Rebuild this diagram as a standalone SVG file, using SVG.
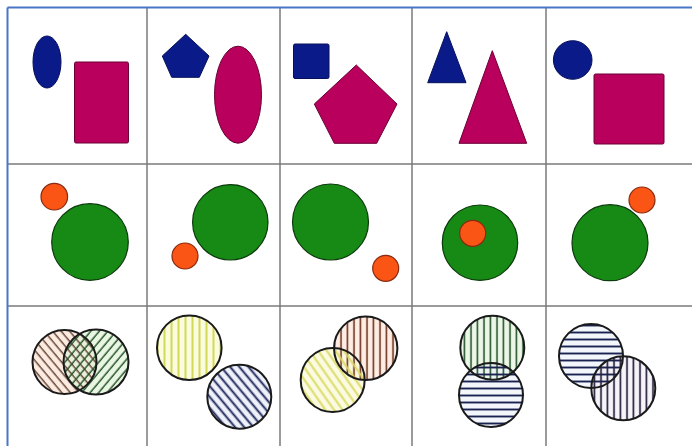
<svg xmlns="http://www.w3.org/2000/svg" width="692" height="446" viewBox="0 0 692 446">
<style>
.grid{stroke:#7a7a7a;stroke-width:1.5;fill:none}
.border{stroke:#4a76c8;stroke-width:2;fill:none}
.blue{fill:#0a1a88;stroke:#06105a;stroke-width:1}
.mag{fill:#b8005c;stroke:#6a0035;stroke-width:1}
.green{fill:#168a14;stroke:#0c3a0c;stroke-width:1.2}
.orange{fill:#fa5514;stroke:#8a2a10;stroke-width:1.2}
.ol{fill:none;stroke:#1a1a1a;stroke-width:2}
</style>
<defs>
<pattern id="pBrownD" width="6.5" height="6.5" patternUnits="userSpaceOnUse" patternTransform="rotate(-40)"><line x1="3" y1="0" x2="3" y2="6.5" stroke="#6a4a3a" stroke-width="1.5"/></pattern>
<pattern id="pGreenD" width="6.5" height="6.5" patternUnits="userSpaceOnUse" patternTransform="rotate(40)"><line x1="3" y1="0" x2="3" y2="6.5" stroke="#2a552a" stroke-width="1.5"/></pattern>
<pattern id="pYellowV" width="7" height="7" patternUnits="userSpaceOnUse"><line x1="3.5" y1="0" x2="3.5" y2="7" stroke="#d2d858" stroke-width="2"/></pattern>
<pattern id="pNavyD" width="7" height="7" patternUnits="userSpaceOnUse" patternTransform="rotate(-40)"><line x1="3.5" y1="0" x2="3.5" y2="7" stroke="#1a2258" stroke-width="1.9"/></pattern>
<pattern id="pBrownV" width="6.5" height="6.5" patternUnits="userSpaceOnUse"><line x1="3" y1="0" x2="3" y2="6.5" stroke="#6e341e" stroke-width="1.6"/></pattern>
<pattern id="pYellowD" width="7" height="7" patternUnits="userSpaceOnUse" patternTransform="rotate(-35)"><line x1="3.5" y1="0" x2="3.5" y2="7" stroke="#dada66" stroke-width="2"/></pattern>
<pattern id="pGreenV" width="6.5" height="6.5" patternUnits="userSpaceOnUse"><line x1="3" y1="0" x2="3" y2="6.5" stroke="#24522a" stroke-width="1.6"/></pattern>
<pattern id="pNavyH" width="7" height="7" patternUnits="userSpaceOnUse"><line x1="0" y1="3.5" x2="7" y2="3.5" stroke="#1a2250" stroke-width="1.9"/></pattern>
<pattern id="pDarkV" width="6.5" height="6.5" patternUnits="userSpaceOnUse"><line x1="3" y1="0" x2="3" y2="6.5" stroke="#261e3a" stroke-width="1.7"/></pattern>
</defs>
<rect width="692" height="446" fill="#ffffff"/>

<g id="grid">
<line class="grid" x1="147" y1="8" x2="147" y2="446"/>
<line class="grid" x1="280" y1="8" x2="280" y2="446"/>
<line class="grid" x1="412" y1="8" x2="412" y2="446"/>
<line class="grid" x1="546" y1="8" x2="546" y2="446"/>
<line class="grid" x1="8" y1="164" x2="692" y2="164"/>
<line class="grid" x1="8" y1="306" x2="692" y2="306"/>
<line class="border" x1="7.5" y1="7.5" x2="692" y2="7.5"/>
<line class="border" x1="7.5" y1="7.5" x2="7.5" y2="446"/>
</g>

<g id="r1c1">
<ellipse class="blue" cx="47" cy="62" rx="14" ry="26"/>
<rect class="mag" x="74.5" y="62" width="54" height="81" rx="1.5"/>
</g>
<g id="r1c2">
<polygon class="blue" points="185.7,34.3 209,56 199.3,77.3 171.7,77.3 162.3,56"/>
<ellipse class="mag" cx="238" cy="94.7" rx="23.5" ry="48.5"/>
</g>
<g id="r1c3">
<rect class="blue" x="293.5" y="44" width="35.5" height="34.5" rx="1.5"/>
<polygon class="mag" points="356.3,65 397,104 376.7,143.3 334.3,143.3 314.3,104"/>
</g>
<g id="r1c4">
<polygon class="blue" points="446.7,31.7 466,82.7 427.7,82.7"/>
<polygon class="mag" points="492.3,50.7 526.7,143.3 459,143.3"/>
</g>
<g id="r1c5">
<circle class="blue" cx="572.7" cy="60" r="19.3"/>
<rect class="mag" x="594" y="74" width="70" height="70" rx="1.5"/>
</g>

<g id="r2c1">
<circle class="orange" cx="54.3" cy="196.7" r="13.3"/>
<circle class="green" cx="90" cy="242" r="38.3"/>
</g>
<g id="r2c2">
<circle class="green" cx="230.3" cy="222.3" r="37.7"/>
<circle class="orange" cx="185" cy="256" r="13"/>
</g>
<g id="r2c3">
<circle class="green" cx="330.5" cy="222" r="38"/>
<circle class="orange" cx="385.7" cy="268.3" r="13"/>
</g>
<g id="r2c4">
<circle class="green" cx="480" cy="242.7" r="37.7"/>
<circle class="orange" cx="472.7" cy="233.3" r="13"/>
</g>
<g id="r2c5">
<circle class="green" cx="610" cy="242.7" r="38"/>
<circle class="orange" cx="642" cy="200" r="13"/>
</g>

<g id="r3c1">
<circle cx="64.5" cy="362" r="32" fill="#fbe2d4" opacity="0.7"/>
<circle cx="96" cy="362" r="32.5" fill="#dff2d8" opacity="0.7"/>
<circle cx="64.5" cy="362" r="32" fill="url(#pBrownD)"/>
<circle cx="96" cy="362" r="32.5" fill="url(#pGreenD)"/>
<circle class="ol" cx="64.5" cy="362" r="32"/>
<circle class="ol" cx="96" cy="362" r="32.5"/>
</g>
<g id="r3c2">
<circle cx="189.3" cy="347.7" r="32.3" fill="#fbfcde"/>
<circle cx="189.3" cy="347.7" r="32.3" fill="url(#pYellowV)"/>
<circle class="ol" cx="189.3" cy="347.7" r="32.3"/>
<circle cx="239.3" cy="396.7" r="32" fill="#eef0fa"/>
<circle cx="239.3" cy="396.7" r="32" fill="url(#pNavyD)"/>
<circle class="ol" cx="239.3" cy="396.7" r="32"/>
</g>
<g id="r3c3">
<circle cx="365.7" cy="348.3" r="31.7" fill="#fde6da" opacity="0.7"/>
<circle cx="332.7" cy="380" r="32" fill="#fafad8" opacity="0.7"/>
<circle cx="365.7" cy="348.3" r="31.7" fill="url(#pBrownV)"/>
<circle cx="332.7" cy="380" r="32" fill="url(#pYellowD)"/>
<circle class="ol" cx="365.7" cy="348.3" r="31.7"/>
<circle class="ol" cx="332.7" cy="380" r="32"/>
</g>
<g id="r3c4">
<circle cx="492.3" cy="347.7" r="32" fill="#e4f3de" opacity="0.7"/>
<circle cx="491" cy="395" r="32" fill="#eef2fa" opacity="0.7"/>
<circle cx="492.3" cy="347.7" r="32" fill="url(#pGreenV)"/>
<circle cx="491" cy="395" r="32" fill="url(#pNavyH)"/>
<circle class="ol" cx="492.3" cy="347.7" r="32"/>
<circle class="ol" cx="491" cy="395" r="32"/>
</g>
<g id="r3c5">
<circle cx="591" cy="356" r="32" fill="#eef2fa" opacity="0.7"/>
<circle cx="623.3" cy="388.3" r="32" fill="#f2f0f6" opacity="0.7"/>
<circle cx="591" cy="356" r="32" fill="url(#pNavyH)"/>
<circle cx="623.3" cy="388.3" r="32" fill="url(#pDarkV)"/>
<circle class="ol" cx="591" cy="356" r="32"/>
<circle class="ol" cx="623.3" cy="388.3" r="32"/>
</g>
</svg>
